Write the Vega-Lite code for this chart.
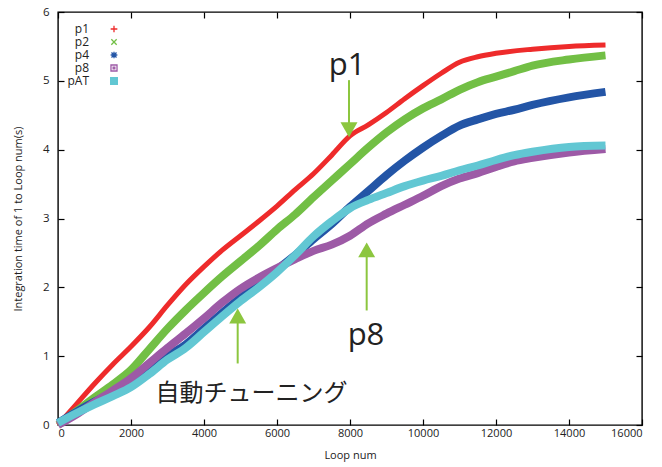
{
  "$schema": "https://vega.github.io/schema/vega-lite/v6.json",
  "width": 584,
  "height": 413,
  "autosize": "none",
  "padding": {"left": 58, "top": 12, "right": 20, "bottom": 42},
  "background": "white",
  "config": {
    "view": {"stroke": "black", "strokeWidth": 1.4},
    "font": "Open Sans",
    "axis": {"grid": false, "domain": false, "labelFont": "Open Sans", "titleFont": "Open Sans", "labelColor": "#222", "titleColor": "#222", "titleFontWeight": "normal", "tickColor": "black", "tickWidth": 1.2}
  },
  "datasets": {
    "series": [
      {"s":"p1","loop":0,"time":0},{"s":"p1","loop":500,"time":0.3},{"s":"p1","loop":1000,"time":0.6},{"s":"p1","loop":1500,"time":0.88},{"s":"p1","loop":2000,"time":1.14},{"s":"p1","loop":2500,"time":1.42},{"s":"p1","loop":3000,"time":1.74},{"s":"p1","loop":3500,"time":2.04},{"s":"p1","loop":4000,"time":2.3},{"s":"p1","loop":4500,"time":2.54},{"s":"p1","loop":5000,"time":2.75},{"s":"p1","loop":5500,"time":2.96},{"s":"p1","loop":6000,"time":3.18},{"s":"p1","loop":6500,"time":3.42},{"s":"p1","loop":7000,"time":3.65},{"s":"p1","loop":7500,"time":3.92},{"s":"p1","loop":8000,"time":4.2},{"s":"p1","loop":8500,"time":4.36},{"s":"p1","loop":9000,"time":4.54},{"s":"p1","loop":9500,"time":4.74},{"s":"p1","loop":10000,"time":4.93},{"s":"p1","loop":10500,"time":5.11},{"s":"p1","loop":11000,"time":5.27},{"s":"p1","loop":11500,"time":5.35},{"s":"p1","loop":12000,"time":5.4},{"s":"p1","loop":13000,"time":5.46},{"s":"p1","loop":14000,"time":5.5},{"s":"p1","loop":15000,"time":5.52},
      {"s":"p2","loop":0,"time":0},{"s":"p2","loop":500,"time":0.2},{"s":"p2","loop":1000,"time":0.4},{"s":"p2","loop":1500,"time":0.59},{"s":"p2","loop":2000,"time":0.8},{"s":"p2","loop":2500,"time":1.1},{"s":"p2","loop":3000,"time":1.4},{"s":"p2","loop":3500,"time":1.67},{"s":"p2","loop":4000,"time":1.92},{"s":"p2","loop":4500,"time":2.16},{"s":"p2","loop":5000,"time":2.38},{"s":"p2","loop":5500,"time":2.6},{"s":"p2","loop":6000,"time":2.84},{"s":"p2","loop":6500,"time":3.06},{"s":"p2","loop":7000,"time":3.31},{"s":"p2","loop":7500,"time":3.55},{"s":"p2","loop":8000,"time":3.79},{"s":"p2","loop":8500,"time":4.03},{"s":"p2","loop":9000,"time":4.25},{"s":"p2","loop":9500,"time":4.44},{"s":"p2","loop":10000,"time":4.6},{"s":"p2","loop":10500,"time":4.73},{"s":"p2","loop":11000,"time":4.87},{"s":"p2","loop":11500,"time":4.98},{"s":"p2","loop":12000,"time":5.06},{"s":"p2","loop":12500,"time":5.14},{"s":"p2","loop":13000,"time":5.22},{"s":"p2","loop":14000,"time":5.31},{"s":"p2","loop":15000,"time":5.37},
      {"s":"p4","loop":0,"time":0.03},{"s":"p4","loop":500,"time":0.19},{"s":"p4","loop":1000,"time":0.34},{"s":"p4","loop":1500,"time":0.47},{"s":"p4","loop":2000,"time":0.6},{"s":"p4","loop":2500,"time":0.79},{"s":"p4","loop":3000,"time":1.0},{"s":"p4","loop":3500,"time":1.17},{"s":"p4","loop":4000,"time":1.4},{"s":"p4","loop":4500,"time":1.63},{"s":"p4","loop":5000,"time":1.85},{"s":"p4","loop":5500,"time":2.05},{"s":"p4","loop":6000,"time":2.26},{"s":"p4","loop":6500,"time":2.47},{"s":"p4","loop":7000,"time":2.7},{"s":"p4","loop":7500,"time":2.92},{"s":"p4","loop":8000,"time":3.17},{"s":"p4","loop":8500,"time":3.4},{"s":"p4","loop":9000,"time":3.63},{"s":"p4","loop":9500,"time":3.84},{"s":"p4","loop":10000,"time":4.03},{"s":"p4","loop":10500,"time":4.2},{"s":"p4","loop":11000,"time":4.35},{"s":"p4","loop":11500,"time":4.44},{"s":"p4","loop":12000,"time":4.52},{"s":"p4","loop":12500,"time":4.58},{"s":"p4","loop":13000,"time":4.65},{"s":"p4","loop":14000,"time":4.76},{"s":"p4","loop":15000,"time":4.84},
      {"s":"p8","loop":0,"time":0},{"s":"p8","loop":500,"time":0.15},{"s":"p8","loop":1000,"time":0.33},{"s":"p8","loop":1500,"time":0.5},{"s":"p8","loop":2000,"time":0.68},{"s":"p8","loop":2500,"time":0.9},{"s":"p8","loop":3000,"time":1.12},{"s":"p8","loop":3500,"time":1.33},{"s":"p8","loop":4000,"time":1.55},{"s":"p8","loop":4500,"time":1.78},{"s":"p8","loop":5000,"time":1.98},{"s":"p8","loop":5500,"time":2.14},{"s":"p8","loop":6000,"time":2.28},{"s":"p8","loop":6500,"time":2.41},{"s":"p8","loop":7000,"time":2.53},{"s":"p8","loop":7500,"time":2.62},{"s":"p8","loop":8000,"time":2.75},{"s":"p8","loop":8500,"time":2.93},{"s":"p8","loop":9000,"time":3.07},{"s":"p8","loop":9500,"time":3.2},{"s":"p8","loop":10000,"time":3.33},{"s":"p8","loop":10500,"time":3.47},{"s":"p8","loop":11000,"time":3.58},{"s":"p8","loop":11500,"time":3.66},{"s":"p8","loop":12000,"time":3.75},{"s":"p8","loop":12500,"time":3.83},{"s":"p8","loop":13000,"time":3.88},{"s":"p8","loop":14000,"time":3.96},{"s":"p8","loop":15000,"time":4.01},
      {"s":"pAT","loop":0,"time":0.03},{"s":"pAT","loop":500,"time":0.17},{"s":"pAT","loop":1000,"time":0.3},{"s":"pAT","loop":1500,"time":0.42},{"s":"pAT","loop":2000,"time":0.55},{"s":"pAT","loop":2500,"time":0.74},{"s":"pAT","loop":3000,"time":0.95},{"s":"pAT","loop":3500,"time":1.12},{"s":"pAT","loop":4000,"time":1.35},{"s":"pAT","loop":4500,"time":1.58},{"s":"pAT","loop":5000,"time":1.8},{"s":"pAT","loop":5500,"time":2.0},{"s":"pAT","loop":6000,"time":2.22},{"s":"pAT","loop":6500,"time":2.47},{"s":"pAT","loop":7000,"time":2.74},{"s":"pAT","loop":7500,"time":2.96},{"s":"pAT","loop":8000,"time":3.15},{"s":"pAT","loop":8500,"time":3.27},{"s":"pAT","loop":9000,"time":3.37},{"s":"pAT","loop":9500,"time":3.47},{"s":"pAT","loop":10000,"time":3.55},{"s":"pAT","loop":10500,"time":3.62},{"s":"pAT","loop":11000,"time":3.7},{"s":"pAT","loop":11500,"time":3.77},{"s":"pAT","loop":12000,"time":3.85},{"s":"pAT","loop":12500,"time":3.92},{"s":"pAT","loop":13000,"time":3.97},{"s":"pAT","loop":14000,"time":4.04},{"s":"pAT","loop":15000,"time":4.06}
    ],
    "arrows": [
      {"loop":7973,"time":5.01,"time2":4.35,"head":4.288,"dir":"down"},
      {"loop":8457,"time":1.664,"time2":2.45,"head":2.544,"dir":"up"},
      {"loop":4923,"time":0.894,"time2":1.5,"head":1.584,"dir":"up"}
    ],
    "labels": [
      {"loop":7918,"time":5.08,"label":"p1"},
      {"loop":8438,"time":1.156,"label":"p8"}
    ],
    "jp": [
      {"loop":5301,"time":0.453,"label":"自動チューニング"}
    ]
  },
  "layer": [
    {
      "data": {"name": "series"},
      "transform": [{"filter": "datum.s === 'p1'"}],
      "mark": {"type": "line", "strokeWidth": 5, "interpolate": "monotone", "strokeCap": "butt", "strokeJoin": "round"},
      "encoding": {
        "x": {"field": "loop", "type": "quantitative", "scale": {"domain": [0, 16000], "nice": false}, "axis": {"title": "Loop num", "values": [0,2000,4000,6000,8000,10000,12000,14000,16000], "format": "d", "orient": "bottom", "tickSize": -6, "labelPadding": 8, "labelFontSize": 11, "titleFontSize": 11, "titlePadding": 11}},
        "y": {"field": "time", "type": "quantitative", "scale": {"domain": [0, 6], "nice": false}, "axis": {"title": "Integration time of 1 to Loop num(s)", "values": [0,1,2,3,4,5,6], "orient": "left", "tickSize": -6, "labelPadding": 15, "labelFontSize": 11.5, "titleFontSize": 11, "titlePadding": 19}},
        "color": {"field": "s", "type": "nominal", "scale": {"domain": ["p1","p2","p4","p8","pAT"], "range": ["#ee2b2b","#72bf45","#2355a6","#9d5aa6","#62c7d3"]},
          "legend": {"title": null, "orient": "none", "legendX": 50, "legendY": 11, "symbolType": "square", "symbolSize": 45, "symbolStrokeWidth": 1.3, "labelAlign": "right", "labelOffset": -31, "labelFontSize": 12, "labelFont": "Open Sans", "labelColor": "#222", "rowPadding": 1, "padding": 0,
            "encode": {"symbols": {"update": {
              "shape": {"signal": "datum.value==='p1' ? 'M-1,0L1,0M0,-1L0,1' : datum.value==='p2' ? 'M-0.8,-0.8L0.8,0.8M-0.8,0.8L0.8,-0.8' : datum.value==='p4' ? 'M-1,0L1,0M0,-1L0,1M-0.75,-0.75L0.75,0.75M-0.75,0.75L0.75,-0.75' : datum.value==='p8' ? 'M-0.9,-0.9H0.9V0.9H-0.9ZM-0.25,-0.25H0.25V0.25H-0.25Z' : 'square'"},
              "fill": {"signal": "datum.value==='pAT' ? '#62c7d3' : 'transparent'"},
              "stroke": {"signal": "scale('color', datum.value)"},
              "strokeWidth": {"value": 1.3}
            }}}}}
      }
    },
    {
      "data": {"name": "series"},
      "transform": [{"filter": "datum.s !== 'p1'"}],
      "mark": {"type": "line", "strokeWidth": 8, "interpolate": "monotone", "strokeCap": "butt", "strokeJoin": "round"},
      "encoding": {
        "x": {"field": "loop", "type": "quantitative", "axis": null},
        "y": {"field": "time", "type": "quantitative", "axis": null},
        "color": {"field": "s", "type": "nominal"}
      }
    },
    {
      "data": {"name": "arrows"},
      "mark": {"type": "rule", "color": "#8cc63f", "strokeWidth": 2},
      "encoding": {
        "x": {"field": "loop", "type": "quantitative", "axis": null},
        "y": {"field": "time", "type": "quantitative", "axis": null},
        "y2": {"field": "time2"}
      }
    },
    {
      "data": {"name": "arrows"},
      "mark": {"type": "point", "filled": true, "color": "#8cc63f", "opacity": 1, "size": 289},
      "encoding": {
        "x": {"field": "loop", "type": "quantitative", "axis": null},
        "y": {"field": "head", "type": "quantitative", "axis": null},
        "shape": {"field": "dir", "type": "nominal", "scale": {"domain": ["down","up"], "range": ["M-1,-0.88L1,-0.88L0,0.88Z", "M-1,0.88L1,0.88L0,-0.88Z"]}, "legend": null}
      }
    },
    {
      "data": {"name": "jp"},
      "mark": {"type": "text", "font": "Noto Sans CJK JP", "fontSize": 24, "color": "#222", "align": "center", "baseline": "middle"},
      "encoding": {
        "x": {"field": "loop", "type": "quantitative", "axis": null},
        "y": {"field": "time", "type": "quantitative", "axis": null},
        "text": {"field": "label"}
      }
    },
    {
      "data": {"name": "labels"},
      "mark": {"type": "text", "font": "Open Sans", "fontSize": 31, "color": "#222", "align": "center", "baseline": "alphabetic"},
      "encoding": {
        "x": {"field": "loop", "type": "quantitative", "axis": {"orient": "top", "labels": false, "title": null, "values": [0,2000,4000,6000,8000,10000,12000,14000,16000], "tickSize": -6}},
        "y": {"field": "time", "type": "quantitative", "axis": {"orient": "right", "labels": false, "title": null, "values": [0,1,2,3,4,5,6], "tickSize": -6}},
        "text": {"field": "label"}
      }
    }
  ],
  "resolve": {"axis": {"x": "independent", "y": "independent"}}
}
